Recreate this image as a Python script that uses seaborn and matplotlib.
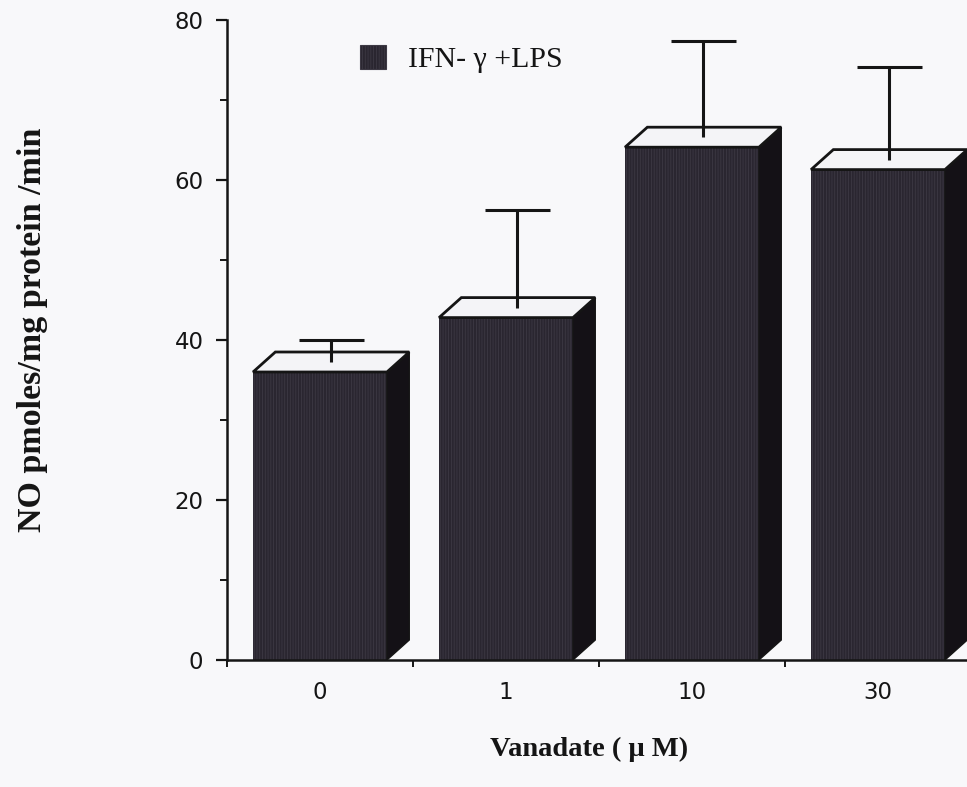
import numpy as np
import pandas as pd
import matplotlib
matplotlib.use("Agg")
import matplotlib.pyplot as plt
import seaborn as sns
from matplotlib.patches import Polygon
from matplotlib.ticker import FixedLocator

# ---- data ----
doses = ["0", "1", "10", "30"]
no_mean = [36.0, 42.8, 64.1, 61.3]
no_err = [2.8, 12.2, 12.0, 11.6]
series_label = "IFN- γ +LPS"
y_major = [0, 20, 40, 60, 80]
y_minor = [10, 30, 50, 70]
x_title = "Vanadate ( μ M)"
y_title = "NO pmoles/mg protein /min"

# ---- style ----
BG = "#f8f8fa"
FRONT = "#2a2630"
STRIPE = "#3d3944"
SIDE = "#141116"
TOP = "#f4f4f7"
INK = "#151515"
DX, DY = 0.12, 2.5  # 3D depth offsets (category units, value units)

sns.set_theme(style="ticks")
plt.rcParams["font.family"] = ["DejaVu Sans"]
plt.rcParams["hatch.linewidth"] = 0.6

df = pd.DataFrame({"dose": doses, "no": no_mean})

fig = plt.figure(figsize=(9.67, 7.87), dpi=100, facecolor=BG)
ax = fig.add_axes([227 / 967, 127 / 787, 744 / 967, 640 / 787])
ax.set_facecolor(BG)

sns.barplot(data=df, x="dose", y="no", order=doses, color=FRONT, saturation=1,
            width=0.72, errorbar=None, label=series_label, ax=ax,
            hatch="||||||", edgecolor=STRIPE, linewidth=0)

bars = [p for p in ax.patches]
for p, err in zip(bars, no_err):
    x0, w, h = p.get_x(), p.get_width(), p.get_height()
    x1 = x0 + w
    side = Polygon([(x1, 0), (x1 + DX, DY), (x1 + DX, h + DY), (x1, h)],
                   closed=True, facecolor=SIDE, edgecolor=INK, lw=1.0, zorder=3)
    top = Polygon([(x0, h), (x0 + DX, h + DY), (x1 + DX, h + DY), (x1, h)],
                  closed=True, facecolor=TOP, edgecolor=INK, lw=2.0, zorder=4)
    ax.add_patch(side)
    ax.add_patch(top)
    xc = x0 + w / 2 + DX / 2
    base = h + DY / 2
    ax.vlines(xc, base, base + err, color=INK, lw=2.2, zorder=5)
    ax.hlines(base + err, xc - 0.175, xc + 0.175, color=INK, lw=2.2, zorder=5)

ax.set_xlim(-0.5, 3.5)
ax.set_ylim(0, 80)

for s in ("top", "right"):
    ax.spines[s].set_visible(False)
for s in ("left", "bottom"):
    ax.spines[s].set_color(INK)
    ax.spines[s].set_linewidth(1.8)

ax.yaxis.set_major_locator(FixedLocator(y_major))
ax.yaxis.set_minor_locator(FixedLocator(y_minor))
ax.set_yticklabels([str(v) for v in y_major])
ax.tick_params(axis="y", which="major", direction="out", length=8, width=1.6,
               color=INK, labelsize=16.5, labelcolor=INK, pad=9)
ax.tick_params(axis="y", which="minor", direction="out", length=5, width=1.4, color=INK)

ax.xaxis.set_minor_locator(FixedLocator([-0.5, 0.5, 1.5, 2.5, 3.5]))
ax.tick_params(axis="x", which="major", length=0, labelsize=16.5, labelcolor=INK, pad=15)
ax.tick_params(axis="x", which="minor", direction="out", length=5, width=1.4, color=INK)

ax.set_xlabel(x_title, fontsize=20.5, fontweight="bold", family="Liberation Serif", color=INK)
ax.xaxis.label.set_va("center")
ax.xaxis.set_label_coords(0.487, -0.139)

ax.set_ylabel(y_title, fontsize=24.5, fontweight="bold", family="Liberation Serif", color=INK)
ax.yaxis.label.set_va("center")
ax.yaxis.set_label_coords(-0.262, 0.516)

leg = ax.legend(loc="center left", bbox_to_anchor=(0.179, 0.939), frameon=False,
                prop={"family": "Liberation Serif", "size": 21.5},
                handlelength=0.85, handleheight=0.85, handletextpad=0.75,
                borderpad=0, borderaxespad=0)
for t in leg.get_texts():
    t.set_color(INK)
for hnd in leg.legend_handles:
    hnd.set_linewidth(0.8)

fig.savefig("out.png", dpi=100, facecolor=BG)
